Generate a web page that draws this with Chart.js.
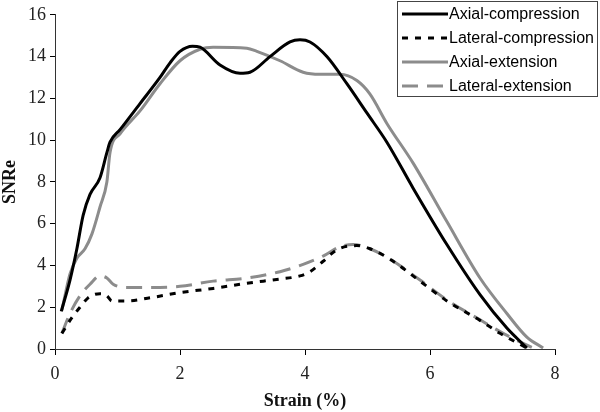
<!DOCTYPE html>
<html>
<head>
<meta charset="utf-8">
<script src="https://cdn.jsdelivr.net/npm/chart.js@4/dist/chart.umd.min.js"></script>
<style>
  html, body { margin: 0; padding: 0; background: #fff; }
  #wrap { width: 600px; height: 412px; }
</style>
</head>
<body>
<div id="wrap"><canvas id="chart" width="600" height="412"></canvas></div>
<script>
'use strict';

// strain (%) and SNRe values
const axialCompX = [0.1, 0.24, 0.35, 0.45, 0.56, 0.72, 0.83, 0.88, 1.04, 1.36, 1.68, 1.84, 2.0, 2.2, 2.32, 2.64, 2.96, 3.12, 3.44, 3.76, 3.92, 4.08, 4.35, 4.67, 4.99, 5.31, 5.73, 6.27, 6.8, 7.23, 7.55];
const axialCompY = [1.8, 3.3, 4.8, 6.4, 7.4, 8.2, 9.4, 9.9, 10.5, 11.75, 13.0, 13.7, 14.25, 14.5, 14.45, 13.6, 13.2, 13.25, 14.0, 14.7, 14.8, 14.7, 14.0, 12.7, 11.3, 9.9, 7.7, 5.0, 2.6, 1.0, 0.05];

const lateralCompX = [0.11, 0.27, 0.4, 0.53, 0.72, 0.83, 0.91, 1.15, 1.52, 2.0, 2.53, 3.07, 3.6, 3.92, 4.08, 4.29, 4.51, 4.83, 5.04, 5.36, 5.84, 6.27, 6.8, 7.12, 7.55];
const lateralCompY = [0.75, 1.5, 2.0, 2.45, 2.65, 2.55, 2.3, 2.3, 2.45, 2.7, 2.9, 3.15, 3.35, 3.5, 3.7, 4.2, 4.75, 4.95, 4.8, 4.3, 3.25, 2.3, 1.37, 0.75, 0.05];

const axialExtX = [0.11, 0.24, 0.35, 0.48, 0.59, 0.72, 0.83, 0.88, 1.04, 1.36, 1.68, 2.0, 2.32, 2.53, 3.07, 3.23, 3.6, 3.97, 4.24, 4.56, 4.83, 5.04, 5.31, 5.73, 6.27, 6.8, 7.23, 7.55, 7.81];
const axialExtY = [1.85, 3.6, 4.35, 4.8, 5.5, 6.8, 8.0, 9.4, 10.3, 11.4, 12.7, 13.8, 14.35, 14.45, 14.4, 14.25, 13.8, 13.25, 13.15, 13.15, 12.85, 12.2, 10.8, 8.9, 6.1, 3.4, 1.7, 0.57, 0.05];

const lateralExtX = [0.11, 0.24, 0.4, 0.56, 0.72, 0.83, 0.93, 1.15, 1.52, 2.0, 2.53, 3.07, 3.6, 3.97, 4.29, 4.56, 4.77, 5.04, 5.36, 5.84, 6.27, 6.8, 7.2, 7.65];
const lateralExtY = [0.75, 1.7, 2.55, 3.1, 3.5, 3.4, 3.1, 2.95, 2.95, 3.0, 3.25, 3.4, 3.7, 4.05, 4.45, 4.9, 5.0, 4.8, 4.3, 3.3, 2.35, 1.4, 0.7, 0.05];

const seriesNames = ['Axial-compression', 'Lateral-compression', 'Axial-extension', 'Lateral-extension'];
const xTicks = [0, 2, 4, 6, 8];
const yTicks = [0, 2, 4, 6, 8, 10, 12, 14, 16];

const GRAY = '#8c8c8c';

function toPoints(xs, ys) {
  const pts = [];
  for (let i = 0; i < xs.length; i++) {
    pts.push({ x: xs[i], y: ys[i] });
  }
  return pts;
}

// boxed legend in the top right corner, like the original figure
const boxLegend = {
  id: 'boxLegend',
  afterDraw(chart) {
    const ctx = chart.ctx;
    const left = 397, top = 1, w = 201, h = 96;
    ctx.save();
    ctx.strokeStyle = '#444';
    ctx.lineWidth = 1;
    ctx.fillStyle = '#fff';
    ctx.fillRect(left, top, w, h);
    ctx.strokeRect(left + 0.5, top + 0.5, w - 1, h - 1);
    chart.data.datasets.forEach((ds, i) => {
      const y = 14 + i * 24;
      ctx.beginPath();
      ctx.strokeStyle = ds.borderColor;
      ctx.lineWidth = ds.borderWidth;
      ctx.setLineDash(ds.borderDash || []);
      ctx.moveTo(402, y);
      ctx.lineTo(448, y);
      ctx.stroke();
      ctx.setLineDash([]);
      ctx.fillStyle = '#000';
      ctx.font = '16px "Liberation Sans", Arial, sans-serif';
      ctx.textBaseline = 'middle';
      ctx.fillText(ds.label, 449, y + 1);
    });
    ctx.restore();
  }
};

const serifFont = { family: '"Liberation Serif", "Times New Roman", serif', size: 18 };

function renderChart() {
  return new Chart(document.getElementById('chart'), {
    type: 'line',
    data: {
      datasets: [
        {
          label: seriesNames[0],
          data: toPoints(axialCompX, axialCompY),
          borderColor: '#000',
          borderWidth: 3,
          order: 1,
        },
        {
          label: seriesNames[1],
          data: toPoints(lateralCompX, lateralCompY),
          borderColor: '#000',
          borderWidth: 3,
          borderDash: [6, 7],
          order: 3,
        },
        {
          label: seriesNames[2],
          data: toPoints(axialExtX, axialExtY),
          borderColor: GRAY,
          borderWidth: 3,
          order: 2,
        },
        {
          label: seriesNames[3],
          data: toPoints(lateralExtX, lateralExtY),
          borderColor: GRAY,
          borderWidth: 3,
          borderDash: [16, 9],
          order: 4,
        },
      ],
    },
    options: {
      responsive: false,
      animation: false,
      layout: { padding: { top: 10, right: 45, left: 0, bottom: 0 } },
      elements: {
        point: { radius: 0 },
        line: { cubicInterpolationMode: 'monotone', fill: false, borderCapStyle: 'butt' },
      },
      plugins: {
        legend: { display: false },
        tooltip: { enabled: false },
      },
      scales: {
        x: {
          type: 'linear',
          min: 0,
          max: 8,
          afterBuildTicks: (scale) => { scale.ticks = xTicks.map(v => ({ value: v })); },
          afterFit: (scale) => { scale.height = 63; },
          grid: { drawOnChartArea: false, color: '#000', tickLength: 6 },
          border: { color: '#333', width: 1 },
          ticks: { color: '#222', font: serifFont, padding: 8, maxRotation: 0 },
          title: {
            display: true,
            text: 'Strain (%)',
            color: '#111',
            font: { family: serifFont.family, size: 18, weight: 'bold' },
            padding: { top: 4, bottom: 0 },
          },
        },
        y: {
          min: 0,
          max: 16,
          afterBuildTicks: (scale) => { scale.ticks = yTicks.map(v => ({ value: v })); },
          afterFit: (scale) => { scale.width = 55; },
          grid: { drawOnChartArea: false, color: '#000', tickLength: 5 },
          border: { color: '#333', width: 1 },
          ticks: { color: '#222', font: serifFont, padding: 4 },
          title: {
            display: true,
            text: 'SNRe',
            color: '#111',
            font: { family: serifFont.family, size: 18, weight: 'bold' },
            padding: { top: 0, bottom: 0 },
          },
        },
      },
    },
    plugins: [boxLegend],
  });
}

renderChart();
</script>
</body>
</html>
